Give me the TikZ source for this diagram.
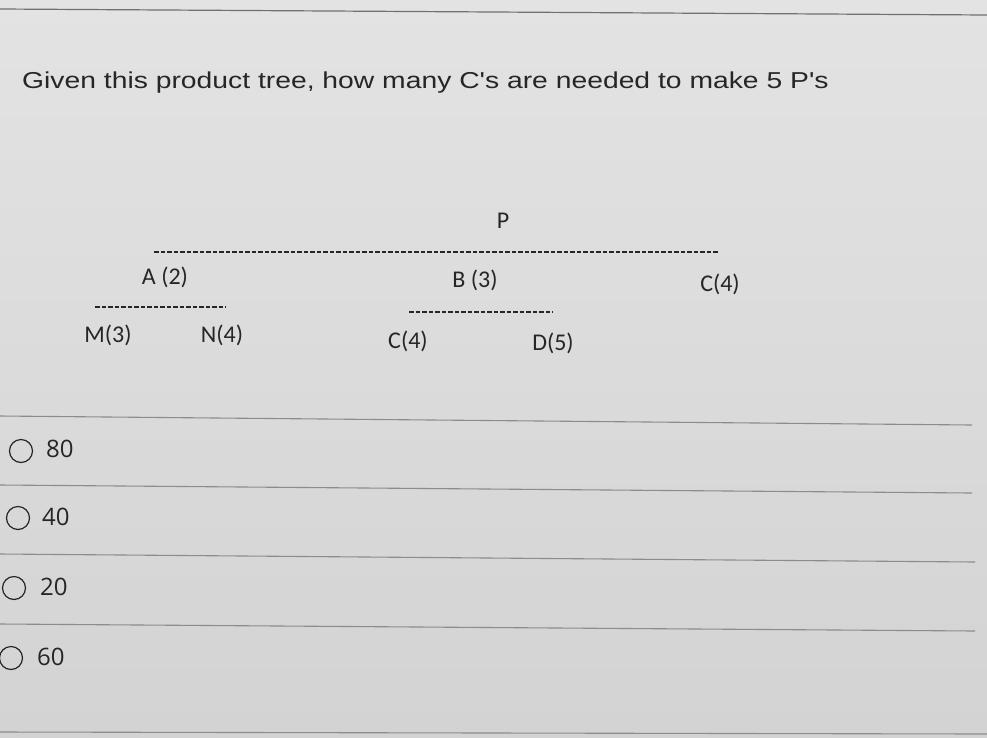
\documentclass[tikz,border=0pt]{standalone}
\usepackage{fontspec}
\usepackage{graphicx}
\setmainfont{Liberation Sans}
\newfontfamily\calib{Carlito}
\newfontfamily\opens{Open Sans}
\definecolor{bgtop}{HTML}{E3E3E3}
\definecolor{bgbot}{HTML}{D3D3D3}
\definecolor{ink}{HTML}{262626}
\definecolor{rulec}{HTML}{8C8C8C}
\begin{document}
\begin{tikzpicture}[x=1pt,y=-1pt,
  tlabel/.style={font=\calib\fontsize{24}{28}\selectfont, text=ink, inner sep=0pt},
  dashline/.style={draw=ink, line width=1.3pt, dash pattern=on 4.5pt off 2pt},
  seprule/.style={draw=rulec, line width=1.1pt},
  optlabel/.style={font=\opens\fontsize{24}{28}\selectfont, text=ink, anchor=west, inner sep=0pt},
  radio/.style={circle, draw=ink, line width=1.2pt, minimum size=23pt, inner sep=0pt}]
\shade[top color=bgtop, bottom color=bgbot] (0,0) rectangle (987,737);
\useasboundingbox (0,0) rectangle (987,737);

% top rule
\coordinate (t1) at (0,9); \coordinate (t2) at (987,15);
\draw[draw=rulec!80!black, line width=1.2pt] (t1) -- (t2);

% question
\node[anchor=base west, inner sep=0pt, text=ink, font=\fontsize{23}{27}\selectfont] (q) at (22,88)
  {\scalebox{1.23}[1]{Given this product tree, how many C\textquotesingle s are needed to make 5 P\textquotesingle s}};

% tree
\node[tlabel] (P) at (503,221) {P};
\coordinate (d1a) at (154,252); \coordinate (d1b) at (718,252);
\draw[dashline] (d1a) -- (d1b);
\node[tlabel] (A) at (165,277) {A (2)};
\node[tlabel] (B) at (475,280) {B (3)};
\node[tlabel] (C1) at (720,284) {C(4)};
\coordinate (d2a) at (95,307); \coordinate (d2b) at (226,307);
\draw[dashline] (d2a) -- (d2b);
\coordinate (d3a) at (409,312); \coordinate (d3b) at (553,312);
\draw[dashline] (d3a) -- (d3b);
\node[tlabel] (M) at (108,335) {M(3)};
\node[tlabel] (N) at (222,335) {N(4)};
\node[tlabel] (C2) at (408,341) {C(4)};
\node[tlabel] (D) at (553,343) {D(5)};

% separators
\coordinate (s1a) at (0,416); \coordinate (s1b) at (972,425);
\coordinate (s2a) at (0,485); \coordinate (s2b) at (972,493);
\coordinate (s3a) at (0,554); \coordinate (s3b) at (975,562);
\coordinate (s4a) at (0,624); \coordinate (s4b) at (975,631);
\coordinate (s5a) at (0,732); \coordinate (s5b) at (987,734);
\draw[seprule] (s1a) -- (s1b);
\draw[seprule] (s2a) -- (s2b);
\draw[seprule] (s3a) -- (s3b);
\draw[seprule] (s4a) -- (s4b);
\draw[seprule] (s5a) -- (s5b);

% options
\node[radio] (r1) at (21,451) {};
\node[optlabel] (o1) at (46,449) {80};
\node[radio] (r2) at (18,518) {};
\node[optlabel] (o2) at (42,517) {40};
\node[radio] (r3) at (14,588) {};
\node[optlabel] (o3) at (40,587) {20};
\node[radio] (r4) at (11,658) {};
\node[optlabel] (o4) at (37,657) {60};
\end{tikzpicture}
\end{document}
